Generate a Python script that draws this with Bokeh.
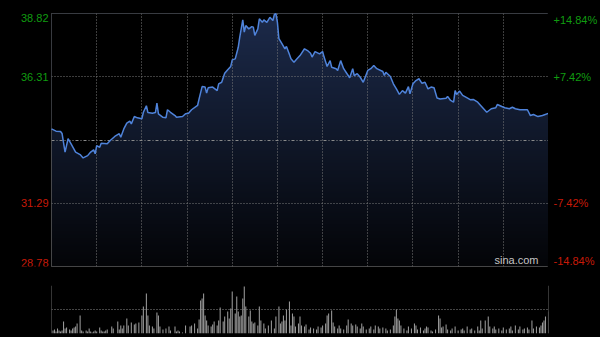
import numpy as np
from bokeh.plotting import figure
from bokeh.layouts import column, row
from bokeh.models import Range1d, Grid, FixedTicker, Label, Span
from bokeh.core.properties import value
from bokeh.embed import file_html
from bokeh.resources import INLINE

# ---- data (minutes since open, HK session 330 min) ----
t_min = [0, 3, 6, 7, 9, 11, 13, 16, 19, 21,
         24, 26, 28, 29, 30, 32, 33, 37, 39, 42,
         45, 46, 48, 50, 52, 53, 55, 57, 60, 61,
         63, 64, 67, 69, 70, 71, 74, 76, 77, 79,
         82, 83, 87, 89, 91, 93, 97, 98, 100, 102,
         103, 104, 107, 110, 111, 113, 115, 117, 119, 120,
         122, 124, 125, 127, 128, 129, 131, 133, 134, 135,
         137, 138, 140, 141, 143, 145, 147, 148, 149, 150,
         151, 153, 155, 156, 158, 159, 161, 163, 165, 168,
         170, 172, 173, 175, 178, 180, 181, 183, 185, 186,
         189, 190, 192, 194, 196, 198, 200, 201, 203, 205,
         207, 210, 212, 214, 216, 220, 221, 222, 225, 227,
         229, 231, 233, 235, 237, 238, 240, 242, 244, 246,
         248, 250, 252, 254, 256, 258, 262, 263, 265, 267,
         268, 269, 271, 273, 276, 278, 280, 283, 286, 289,
         292, 295, 296, 299, 301, 304, 306, 308, 311, 316,
         318, 320, 323, 326, 330]
price = [34.24, 34.15, 34.14, 34.06, 33.32, 33.85, 33.65, 33.32, 33.22, 33.09,
         33.18, 33.32, 33.41, 33.25, 33.58, 33.51, 33.67, 33.65, 33.78, 33.94,
         34.05, 33.91, 34.24, 34.47, 34.55, 34.44, 34.73, 34.68, 34.64, 34.90,
         35.16, 34.89, 34.86, 34.89, 35.26, 34.84, 34.70, 34.68, 35.00, 34.90,
         34.77, 34.70, 34.73, 34.84, 34.86, 35.00, 35.17, 35.43, 35.92, 35.90,
         35.66, 35.87, 35.90, 35.76, 36.03, 36.09, 36.45, 36.59, 36.72, 36.98,
         37.02, 37.48, 37.88, 38.57, 38.08, 38.34, 38.21, 38.30, 38.28, 37.95,
         38.21, 38.61, 38.47, 38.57, 38.47, 38.67, 38.54, 38.78, 38.81, 38.47,
         37.82, 37.62, 37.42, 37.51, 37.19, 37.02, 36.89, 37.02, 37.15, 37.42,
         37.35, 37.24, 37.09, 37.31, 37.22, 37.31, 37.09, 36.72, 36.95, 36.69,
         36.63, 36.56, 36.95, 36.63, 36.45, 36.27, 36.63, 36.36, 36.43, 36.29,
         36.09, 36.56, 36.63, 36.76, 36.63, 36.52, 36.36, 36.49, 36.32, 36.03,
         35.83, 35.61, 35.76, 35.66, 35.92, 35.63, 36.03, 36.16, 36.23, 36.05,
         36.09, 35.83, 35.90, 35.87, 35.47, 35.43, 35.46, 35.53, 35.37, 35.30,
         35.76, 35.61, 35.74, 35.57, 35.47, 35.40, 35.41, 35.30, 35.10, 34.90,
         35.04, 35.08, 35.21, 35.13, 35.08, 35.04, 35.10, 35.04, 35.00, 35.00,
         34.77, 34.81, 34.73, 34.77, 34.86]

vol_minute = [1, 2, 3, 4, 5, 6, 7, 8, 9, 10, 12, 13, 14, 15, 16, 17, 19, 20, 21,
              23, 24, 25, 26, 27, 28, 29, 30, 32, 33, 34, 35, 36, 37, 40, 41,
              44, 45, 46, 47, 48, 50, 51, 53, 55, 56, 58, 60, 61, 63, 64, 65,
              67, 68, 70, 71, 72, 74, 76, 78, 79, 82,
              83, 84, 85, 87, 89, 92, 93, 95, 97, 98, 99, 100, 101, 102, 103,
              104, 106, 107, 108, 110, 111, 112, 114, 115, 117, 118, 119, 120,
              122, 123, 124, 125, 126, 127, 128, 129, 131, 132, 133, 134, 135,
              137, 138, 139, 141, 142, 144, 146, 148, 149, 151, 152, 153, 154,
              155, 156, 158, 159, 160, 161, 162, 164,
              165, 166, 168, 169, 171, 172, 174, 176, 177, 179, 180, 182, 183,
              184, 186, 187, 188, 190, 191, 192, 194, 196, 197, 199, 200, 202,
              203, 205, 206, 207, 209, 211, 212, 214, 215, 217, 218, 220, 222,
              223, 225, 227, 228, 229, 230, 231, 232, 234, 236, 237, 239, 241,
              242, 243, 245, 247, 248,
              249, 250, 252, 253, 255, 257, 258, 259, 260, 262, 263, 265, 266,
              268, 270, 272, 273, 274, 276, 278, 279, 281, 283, 284, 285, 286,
              288, 290, 291, 293, 294, 295, 297, 299, 300, 302, 304, 305, 306,
              308, 310, 311, 313, 314, 316, 317, 319, 320, 322, 324, 325, 326,
              327, 328, 330]
vol_value = [3, 4, 2, 5, 3, 2, 3, 12, 5, 6, 4, 3, 5, 6, 7, 10, 18, 3, 2,
             3, 2, 5, 2, 1, 2, 3, 2, 6, 3, 2, 2, 3, 4, 7, 5,
             12, 4, 8, 5, 8, 15, 8, 11, 9, 10, 11, 18, 27, 40, 18, 8,
             7, 5, 21, 18, 7, 4, 5, 7, 3, 7,
             2, 3, 2, 1, 8, 7, 8, 10, 5, 14, 33, 35, 40, 18, 13,
             8, 7, 9, 12, 8, 13, 26, 12, 17, 22, 15, 25, 42,
             20, 37, 22, 17, 18, 35, 47, 27, 17, 23, 12, 10, 11,
             8, 27, 13, 10, 5, 8, 13, 5, 17, 27, 10, 12, 18,
             13, 24, 32, 8, 20, 17, 7, 10,
             17, 8, 7, 9, 4, 6, 5, 4, 7, 6, 8, 10, 18,
             20, 23, 11, 7, 5, 8, 5, 4, 8, 14, 10, 8, 9,
             7, 5, 10, 7, 4, 5, 7, 4, 8, 7, 5, 6, 5,
             3, 4, 8, 17, 24, 15, 13, 8, 5, 3, 7, 5, 10,
             8, 4, 6, 3, 5,
             7, 6, 3, 2, 4, 18, 15, 6, 7, 9, 4, 3, 5,
             7, 3, 4, 5, 3, 7, 4, 5, 3, 7, 3, 13, 5,
             13, 17, 7, 5, 7, 4, 5, 3, 6, 4, 5, 7, 3,
             8, 4, 7, 4, 5, 6, 4, 13, 5, 7, 6, 8, 11,
             13, 17, 22]

session_minutes = [0, 330]
grid_minutes = [30, 60, 90, 120, 150, 180, 210, 240, 270, 300]
prev_close = 33.80
price_ticks = [38.82, 36.31, 31.29, 28.78]
price_labels = ["38.82", "36.31", "31.29", "28.78"]
pct_labels = ["+14.84%", "+7.42%", "-7.42%", "-14.84%"]
vol_max = 48

FONT = "Liberation Sans"
GREEN = "#109c10"
RED = "#c81a08"
BG = "black"

y_lo, y_hi = min(price_ticks), max(price_ticks)
x_lo, x_hi = session_minutes
TOP_B, BOT_B, H1 = 13, 14, 280

price_range = Range1d(y_lo, y_hi)


def side_fig(w):
    f = figure(width=w, height=H1, output_backend="svg", toolbar_location=None,
               x_range=Range1d(0, 1), y_range=price_range,
               x_axis_location=None, y_axis_location=None,
               background_fill_color=BG, border_fill_color=BG,
               min_border_left=0, min_border_right=0, min_border_top=TOP_B, min_border_bottom=BOT_B)
    f.outline_line_color = None
    f.xgrid.visible = False
    f.ygrid.visible = False
    return f


# ---- price panel ----
p1 = figure(width=497, height=H1, output_backend="svg", toolbar_location=None,
            x_range=Range1d(x_lo, x_hi), y_range=price_range,
            x_axis_location=None, y_axis_location=None,
            background_fill_color=BG, border_fill_color=BG,
            min_border_left=0, min_border_right=0, min_border_top=TOP_B, min_border_bottom=BOT_B)
p1.outline_line_color = "#5c5c5c"
p1.xgrid.visible = False
p1.ygrid.visible = False

# vertical gradient behind the area
H = 256
frac = np.linspace(0, 1, H)
bot = np.array([4, 5, 8]); top = np.array([28, 42, 74])
img = np.zeros((H, 2), dtype=np.uint32)
view = img.view(dtype=np.uint8).reshape((H, 2, 4))
for i in range(H):
    c = bot + (top - bot) * frac[i]
    view[i, :, 0] = int(c[0]); view[i, :, 1] = int(c[1]); view[i, :, 2] = int(c[2]); view[i, :, 3] = 255
p1.image_rgba(image=[img], x=x_lo, y=y_lo, dw=x_hi - x_lo, dh=y_hi - y_lo, level="image")
# black above the price line
p1.varea(x=t_min, y1=price, y2=[y_hi] * len(price), fill_color=BG, level="underlay")

hl = [v for v in price_ticks if v not in (y_lo, y_hi)]
p1.add_layout(Grid(dimension=0, ticker=FixedTicker(ticks=grid_minutes), grid_line_color="#7a7a7a",
                   grid_line_dash="1 2", level="glyph"))
p1.add_layout(Grid(dimension=1, ticker=FixedTicker(ticks=hl), grid_line_color="#7a7a7a",
                   grid_line_dash="1 2", level="glyph"))
p1.add_layout(Grid(dimension=1, ticker=FixedTicker(ticks=[prev_close]), grid_line_color="#8a8a8a",
                   grid_line_dash="3 2 1 2", level="glyph"))

p1.line(t_min, price, line_color="#4f83da", line_width=1.5, level="guide")

p1.add_layout(Label(x=x_hi, y=y_lo, text="sina.com", x_offset=-10, y_offset=1, text_align="right",
                    text_baseline="bottom", text_color="#c4c4c4", text_font=FONT, text_font_size="11px"))

# ---- tick label columns (share the price scale) ----
left = side_fig(51)
right = side_fig(52)
for v, lt, pt in zip(price_ticks, price_labels, pct_labels):
    col = GREEN if v > prev_close else RED
    base = "top" if v == y_hi else ("bottom" if v == y_lo else "middle")
    left.text(x=[1], y=[v], text=[lt], x_offset=-3, text_align="right", text_baseline=base,
              text_color=col, text_font=value(FONT), text_font_size="11px")
    right.text(x=[0], y=[v], text=[pt], x_offset=5, text_align="left", text_baseline=base,
               text_color=col, text_font=value(FONT), text_font_size="11px")

# ---- volume panel ----
p2 = figure(width=600, height=57, output_backend="svg", toolbar_location=None,
            x_range=p1.x_range, y_range=Range1d(0, vol_max),
            x_axis_location=None, y_axis_location=None,
            background_fill_color=BG, border_fill_color=BG,
            min_border_left=51, min_border_right=52, min_border_top=5, min_border_bottom=4)
p2.outline_line_color = None
p2.xgrid.visible = False
p2.ygrid.visible = False
p2.add_layout(Grid(dimension=1, ticker=FixedTicker(ticks=[vol_max / 2, vol_max]), grid_line_color="#8a8a8a",
                   grid_line_dash="1 2"))
p2.vbar(x=vol_minute, top=vol_value, width=0.7, fill_color="#9a9a9a", line_color=None)
for xm in session_minutes:
    p2.add_layout(Span(location=xm, dimension="height", line_color="#6a6a6a", line_width=1))

layout = column(row(left, p1, right, spacing=0), p2, spacing=0, styles={"background-color": BG})
open("out.html", "w").write(file_html(layout, INLINE))
